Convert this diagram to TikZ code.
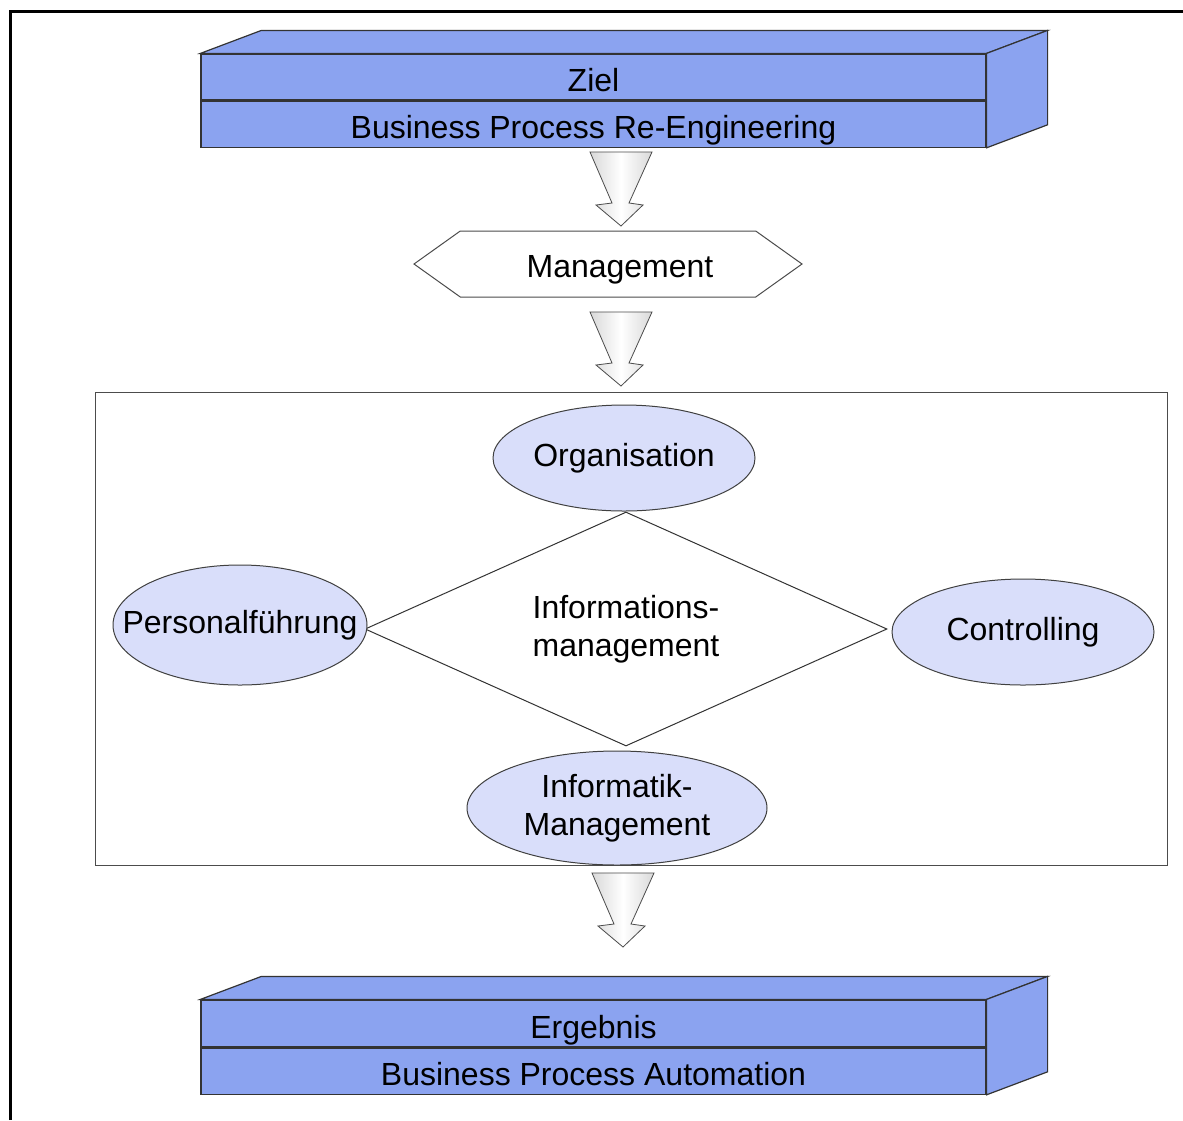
\documentclass[tikz,border=0pt]{standalone}
\usepackage{fontspec}
\setmainfont{Liberation Sans}
\usetikzlibrary{positioning,calc,shapes.geometric,shapes.symbols}
\definecolor{balken}{RGB}{139,163,240}
\definecolor{oval}{RGB}{217,222,250}

\begin{document}
\begin{tikzpicture}[x=1pt,y=-1pt]
\tikzset{every node/.style={font=\fontsize{32}{38}\selectfont,inner sep=0pt}}
\tikzset{leiste/.style={draw=black!80,fill=balken,line width=1.2pt,minimum width=785pt,minimum height=46pt,text height=29pt,text depth=0pt}}
\tikzset{feld/.style={ellipse,draw=black!75,fill=oval,line width=1pt}}
\tikzset{pfeil/.pic={\shade[left color=gray!30,right color=gray!30,middle color=white,draw=black!70,line width=0.8pt]
  (-31,0) -- (-9,51) -- (-25,53) -- (0,74) -- (22,53) -- (8,51) -- (31,0) -- cycle;}}
\useasboundingbox (0,0) rectangle (1183,1120);
\fill[white] (0,0) rectangle (1183,1120);
\draw[line width=3pt] (10,1120) -- (10,11) -- (1183,11);

% Ziel
\node[leiste] (ziel) at (593.5,77) {Ziel};
\node[leiste,below=0pt of ziel] (bpr) {Business Process Re-Engineering};
\filldraw[fill=balken,draw=black!80,line width=1.2pt] (ziel.north west) -- ++(61,-23) -- ($(ziel.north east)+(61,-23)$) -- (ziel.north east) -- cycle;
\filldraw[fill=balken,draw=black!80,line width=1.2pt] (ziel.north east) -- ++(61,-23) -- ($(bpr.south east)+(61,-23)$) -- (bpr.south east) -- cycle;

\pic at (621,152) {pfeil};
\node[signal,signal to=west and east,signal pointer angle=71,draw=black!70,line width=1pt,
  minimum width=388pt,minimum height=66pt,text height=26pt,text depth=0pt] (mgmt) at (608,264) {\hspace*{24pt}Management};
\pic at (621,312) {pfeil};

% Bereiche
\draw[black!70,line width=1pt] (95,392) rectangle (1167,865);
\node[diamond,aspect=2.2,draw=black!80,line width=1pt,minimum width=522pt,minimum height=234pt,align=center] (im) at (626,629) {Informations-\\management};
\node[feld,minimum width=262pt,minimum height=106pt] (org) at (624,458) {Organisation};
\node[feld,inner xsep=-36pt,minimum width=254pt,minimum height=120pt] (pers) at (240,625) {Personalführung};
\node[feld,minimum width=262pt,minimum height=106pt] (contr) at (1023,632) {Controlling};
\node[feld,minimum width=300pt,minimum height=114pt,align=center] (infm) at (617,808) {Informatik-\\Management};

\pic at (623,873) {pfeil};

% Ergebnis
\node[leiste,minimum height=47pt] (erg) at (593.5,1023.5) {Ergebnis};
\node[leiste,below=0pt of erg] (bpa) {Business Process Automation};
\filldraw[fill=balken,draw=black!80,line width=1.2pt] (erg.north west) -- ++(61,-23) -- ($(erg.north east)+(61,-23)$) -- (erg.north east) -- cycle;
\filldraw[fill=balken,draw=black!80,line width=1.2pt] (erg.north east) -- ++(61,-23) -- ($(bpa.south east)+(61,-23)$) -- (bpa.south east) -- cycle;
\end{tikzpicture}
\end{document}
